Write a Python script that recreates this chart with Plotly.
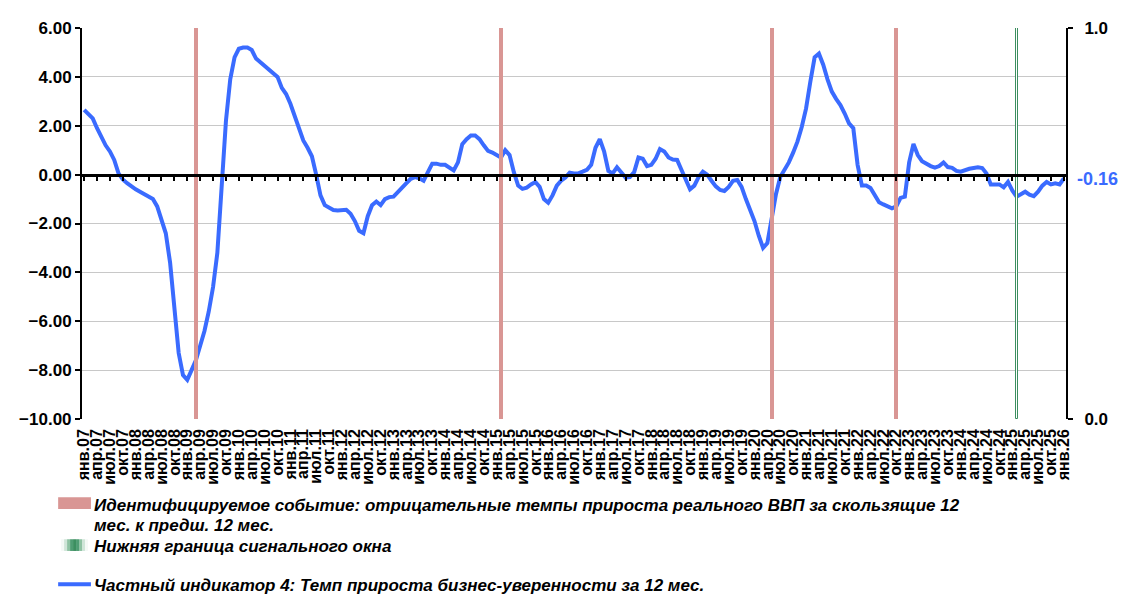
import plotly.graph_objects as go

# ---------------- data ----------------
month_abbr = ["янв.", "фев.", "мар.", "апр.", "май.", "июн.",
              "июл.", "авг.", "сен.", "окт.", "ноя.", "дек."]
years = list(range(2007, 2027))
categories = [f"{m}{y % 100:02d}" for y in years for m in month_abbr][:229]
tick_labels = categories[::3]

indicator = [
    # 2007
    2.65, 2.50, 2.30, 1.90, 1.55, 1.20, 0.95, 0.60, 0.05, -0.20, -0.35, -0.50,
    # 2008
    -0.60, -0.70, -0.80, -0.87, -1.00, -1.30, -1.80, -2.40, -3.60, -5.50, -7.30, -8.20,
    # 2009
    -8.40, -8.00, -7.60, -7.00, -6.40, -5.60, -4.60, -3.20, -0.30, 2.20, 3.90, 4.80,
    # 2010
    5.15, 5.20, 5.20, 5.10, 4.75, 4.60, 4.50, 4.35, 4.20, 4.00, 3.55, 3.30,
    # 2011
    2.90, 2.40, 1.80, 1.40, 1.10, 0.75, 0.00, -0.85, -1.25, -1.35, -1.45, -1.47,
    # 2012
    -1.45, -1.44, -1.60, -1.90, -2.30, -2.40, -1.70, -1.25, -1.10, -1.25, -1.00, -0.92,
    # 2013
    -0.90, -0.70, -0.53, -0.35, -0.17, -0.10, -0.15, -0.25, 0.10, 0.45, 0.45, 0.40,
    # 2014
    0.40, 0.30, 0.17, 0.50, 1.25, 1.45, 1.60, 1.60, 1.45, 1.20, 0.97, 0.90,
    # 2015
    0.80, 0.70, 1.00, 0.80, 0.10, -0.45, -0.58, -0.53, -0.40, -0.30, -0.50, -1.00,
    # 2016
    -1.15, -0.85, -0.45, -0.25, -0.12, 0.08, 0.05, 0.05, 0.12, 0.20, 0.40, 1.10,
    # 2017
    1.45, 0.95, 0.15, 0.05, 0.30, 0.10, -0.12, -0.10, 0.10, 0.70, 0.65, 0.35,
    # 2018
    0.40, 0.65, 1.05, 0.95, 0.70, 0.62, 0.60, 0.20, -0.25, -0.60, -0.45, -0.10,
    # 2019
    0.12, 0.00, -0.25, -0.48, -0.63, -0.67, -0.50, -0.25, -0.22, -0.50, -1.00, -1.45,
    # 2020
    -1.90, -2.50, -3.00, -2.80, -1.80, -0.80, -0.10, 0.20, 0.50, 0.90, 1.35, 1.95,
    # 2021
    2.70, 3.80, 4.80, 4.95, 4.50, 3.90, 3.40, 3.10, 2.85, 2.50, 2.10, 1.90,
    # 2022
    0.40, -0.45, -0.45, -0.55, -0.85, -1.13, -1.22, -1.30, -1.38, -1.30, -0.95, -0.90,
    # 2023
    0.50, 1.25, 0.80, 0.55, 0.43, 0.35, 0.29, 0.35, 0.50, 0.31, 0.28, 0.15,
    # 2024
    0.12, 0.20, 0.24, 0.27, 0.30, 0.27, 0.05, -0.40, -0.42, -0.40, -0.52, -0.30,
    # 2025
    -0.65, -0.90, -0.80, -0.70, -0.82, -0.88, -0.70, -0.45, -0.30, -0.40, -0.36, -0.40,
    # 2026
    -0.16,
]

event_months = ["мар.09", "фев.15", "май.20", "окт.22"]
event_values = [1, 1, 1, 1]
window_months = ["фев.25"]
window_values = [1]

y_ticks = [-10, -8, -6, -4, -2, 0, 2, 4, 6]
y2_ticks = [0, 1]
y2_labels = ["0.0", "1.0"]

legend_event = "Идентифицируемое событие: отрицательные темпы прироста реального ВВП за скользящие 12"
legend_event2 = "мес. к предш. 12 мес."
legend_window = "Нижняя граница сигнального окна"
legend_line = "Частный индикатор 4: Темп прироста бизнес-уверенности за 12 мес."

# ---------------- style ----------------
FONT = "Liberation Sans, Arial, sans-serif"
RED = "#D99694"
GREEN = "#3C8F60"
BLUE = "#3A6BFF"

# the page body has an 8px margin, so the figure is offset by 8px
OFF = 8
W, H = 1133 - OFF, 601 - OFF
PLOT_L, PLOT_R, PLOT_T, PLOT_B = 76, 1066, 19, 419   # page pixels
L = PLOT_L - OFF
T = PLOT_T - OFF
R = W - (PLOT_R - OFF)
B = H - (PLOT_B - OFF)
plot_h = PLOT_B - PLOT_T
plot_w = PLOT_R - PLOT_L


def py(ypix):
    return (PLOT_B - ypix) / plot_h


def px(xpix):
    return (xpix - PLOT_L) / plot_w


fig = go.Figure()

fig.add_trace(go.Bar(
    x=event_months, y=event_values, xaxis="x2", yaxis="y2",
    width=1.0, marker=dict(color=RED, line=dict(width=0)),
    showlegend=False, hoverinfo="skip",
))
fig.add_trace(go.Bar(
    x=window_months, y=window_values, xaxis="x2", yaxis="y2",
    width=0.45, marker=dict(color="white", line=dict(color=GREEN, width=1)),
    showlegend=False, hoverinfo="skip",
))
fig.add_trace(go.Scatter(
    x=categories, y=indicator, mode="lines",
    line=dict(color=BLUE, width=4),
    showlegend=False,
))

axis_common = dict(type="category", categoryorder="array", categoryarray=categories,
                   range=[-0.5, len(categories) - 0.5])

fig.update_layout(
    width=W, height=H,
    margin=dict(l=L, r=R, t=T, b=B),
    paper_bgcolor="white", plot_bgcolor="white",
    barmode="overlay", bargap=0,
    showlegend=False,
    font=dict(family=FONT, color="black"),
    xaxis=dict(
        **axis_common,
        tickmode="array", tickvals=tick_labels, ticktext=tick_labels,
        tickangle=-90, ticks="", showgrid=False, showline=False, zeroline=False,
        ticklabelstandoff=6,
        tickfont=dict(family=FONT, size=16, weight="bold", color="black"),
        anchor="y",
    ),
    xaxis2=dict(
        **axis_common,
        overlaying="x", anchor="free", position=10 / 16,
        tickmode="array", tickvals=tick_labels,
        ticks="outside", ticklen=4, tickwidth=2, tickcolor="black",
        showticklabels=False, showgrid=False, zeroline=False,
        showline=True, linecolor="black", linewidth=3,
    ),
    yaxis=dict(
        range=[-10, 6], tickmode="array", tickvals=y_ticks, tickformat=".2f",
        showgrid=True, gridcolor="#C8C8C8", gridwidth=1,
        zeroline=False, showline=True, linecolor="black", linewidth=2,
        ticks="outside", ticklen=5, tickwidth=2, tickcolor="black",
        tickfont=dict(family=FONT, size=17, weight="bold", color="black"),
    ),
    yaxis2=dict(
        range=[0, 1], overlaying="y", side="right", anchor="x2",
        tickmode="array", tickvals=y2_ticks, ticktext=y2_labels,
        showgrid=False, zeroline=False, showline=True, linecolor="black", linewidth=2,
        ticks="outside", ticklen=5, tickwidth=2, tickcolor="black",
        ticklabelstandoff=8,
        tickfont=dict(family=FONT, size=17, weight="bold", color="black"),
    ),
)

# last value label
fig.add_annotation(
    xref="paper", yref="y", x=1, y=indicator[-1], xanchor="left", yanchor="middle",
    xshift=9, text=f"{indicator[-1]:.2f}", showarrow=False,
    font=dict(family=FONT, size=18, weight="bold", color=BLUE),
)

# ---------------- manual legend ----------------
leg_font = dict(family=FONT, size=17, weight="bold", style="italic", color="black")

fig.add_shape(type="rect", xref="paper", yref="paper",
              x0=px(52), x1=px(85), y0=py(499), y1=py(511),
              fillcolor=RED, line=dict(width=0))
green_steps = ["#f4f9f6", "#cfe5d8", "#8ec2a3", "#4f9d73", "#3C8F60",
               "#4f9d73", "#8ec2a3", "#cfe5d8", "#f4f9f6"]
step = 27 / len(green_steps)
for k, c in enumerate(green_steps):
    fig.add_shape(type="rect", xref="paper", yref="paper",
                  x0=px(55 + k * step), x1=px(55 + (k + 1) * step),
                  y0=py(542), y1=py(554), fillcolor=c, line=dict(width=0))
fig.add_shape(type="line", xref="paper", yref="paper",
              x0=px(52), x1=px(85), y0=py(588), y1=py(588),
              line=dict(color=BLUE, width=4))

for txt, ypix in [(legend_event, 507), (legend_event2, 528),
                  (legend_window, 549), (legend_line, 589)]:
    fig.add_annotation(xref="paper", yref="paper", x=px(87), y=py(ypix),
                       xanchor="left", yanchor="middle", text=txt, showarrow=False,
                       borderpad=0, font=leg_font)

fig.write_html("out.html")
